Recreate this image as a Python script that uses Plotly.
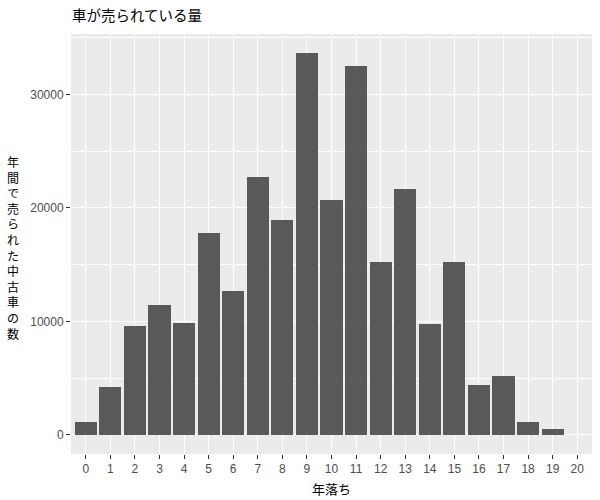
import plotly.graph_objects as go

# 年落ち (years since first registration) and used cars sold per year
years = list(range(21))
sold = [1140, 4240, 9570, 11410, 9830, 17820, 12640, 22740, 18960, 33630,
        20720, 32490, 15190, 21690, 9750, 15190, 4390, 5180, 1140, 530, 0]

title_text = "車が売られている量"
x_title = "年落ち"
y_title = "年間で売られた中古車の数"

jp_font = "Noto Sans CJK JP"
tick_font = "Liberation Sans"

# ggplot-like expansion of the y scale
ymax = max(sold)
yrange = [-0.05 * ymax, 1.05 * ymax]

fig = go.Figure(
    go.Bar(x=years, y=sold, width=0.9, marker_color="#595959", marker_line_width=0)
)

fig.update_layout(
    width=600, height=500,
    margin=dict(l=71, r=8, t=34, b=46, autoexpand=False),
    paper_bgcolor="white",
    plot_bgcolor="#EBEBEB",
    showlegend=False,
    title=dict(text=title_text, x=72 / 600, xanchor="left", xref="container",
               y=1 - 16 / 500, yanchor="middle",
               font=dict(family=jp_font, size=14.5, color="black")),
    bargap=0,
)

fig.update_xaxes(
    range=[-0.6, 20.6], tickmode="array", tickvals=years,
    ticktext=[str(v) for v in years],
    showgrid=True, gridcolor="white", gridwidth=1.3,
    ticks="outside", ticklen=4, tickcolor="#333333", tickwidth=1,
    tickfont=dict(family=tick_font, size=12, color="#4D4D4D"),
    zeroline=False, showline=False, automargin=False,
)

fig.update_yaxes(
    range=yrange, tickmode="array", tickvals=[0, 10000, 20000, 30000],
    ticktext=["0", "10000", "20000", "30000"],
    showgrid=True, gridcolor="white", gridwidth=1.3,
    minor=dict(tickmode="array", tickvals=[5000, 15000, 25000, 35000],
               showgrid=True, gridcolor="white", gridwidth=0.6, ticks=""),
    ticks="outside", ticklen=4, tickcolor="#333333", tickwidth=1,
    tickfont=dict(family=tick_font, size=12, color="#4D4D4D"),
    zeroline=False, showline=False, automargin=False,
)

# x-axis title
fig.add_annotation(
    text=x_title, xref="paper", yref="paper",
    x=0.5, y=(454 - 488) / 420, xanchor="center", yanchor="middle",
    showarrow=False, font=dict(family=jp_font, size=13, color="black"),
)

# upright, stacked y-axis title like the original
stacked = "<br>".join(y_title)
fig.add_annotation(
    text=stacked, xref="paper", yref="paper",
    x=(13 - 71) / 521, y=(454 - 247) / 420,
    xanchor="center", yanchor="middle", showarrow=False,
    font=dict(family=jp_font, size=12, color="black"),
)

# drop the default page margin so the figure sits at the window's corner
fig.write_html("out.html", config={"displayModeBar": False},
               post_script="document.body.style.margin='0';")
